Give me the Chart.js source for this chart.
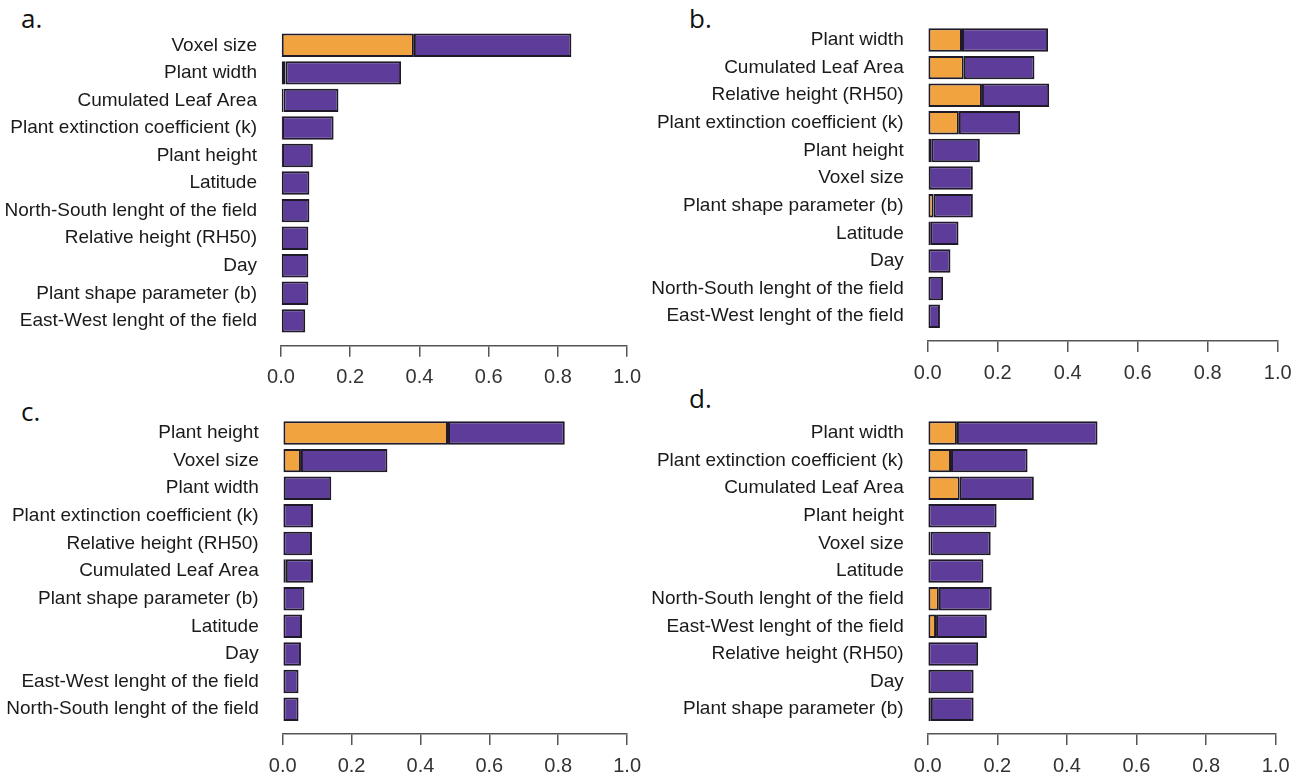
<!DOCTYPE html>
<html>
<head>
<meta charset="utf-8">
<script src="https://cdn.jsdelivr.net/npm/chart.js@4"></script>
<style>
  body { margin: 0; background: #fff; }
  #wrap { position: relative; width: 1303px; height: 780px; overflow: hidden; }
  canvas { position: absolute; }
  .tag { position: absolute; font-family: "Open Sans", sans-serif; font-size: 26px; line-height: 30px; color: #111; }
</style>
</head>
<body>
<div id="wrap">
  <div class="tag" style="left:21px; top:3px">a.</div>
  <div class="tag" style="left:689px; top:3px">b.</div>
  <div class="tag" style="left:21px; top:396px">c.</div>
  <div class="tag" style="left:689px; top:383px">d.</div>
  <canvas id="chartA" width="650" height="390" style="left:0; top:0"></canvas>
  <canvas id="chartB" width="653" height="390" style="left:650px; top:0"></canvas>
  <canvas id="chartC" width="650" height="390" style="left:0; top:390px"></canvas>
  <canvas id="chartD" width="653" height="390" style="left:650px; top:390px"></canvas>
</div>
<script>
// orange = first order index, full bar = total index
var labelsA = ["Voxel size", "Plant width", "Cumulated Leaf Area", "Plant extinction coefficient (k)",
  "Plant height", "Latitude", "North-South lenght of the field", "Relative height (RH50)", "Day",
  "Plant shape parameter (b)", "East-West lenght of the field"];
var firstA = [0.384, 0.013, 0.007, 0.003, 0.003, 0, 0, 0, 0, 0, 0];
var totalA = [0.839, 0.347, 0.166, 0.152, 0.092, 0.082, 0.082, 0.079, 0.079, 0.079, 0.070];

var labelsB = ["Plant width", "Cumulated Leaf Area", "Relative height (RH50)", "Plant extinction coefficient (k)",
  "Plant height", "Voxel size", "Plant shape parameter (b)", "Latitude", "Day",
  "North-South lenght of the field", "East-West lenght of the field"];
var firstB = [0.098, 0.103, 0.155, 0.089, 0.010, 0.003, 0.017, 0.007, 0, 0, 0];
var totalB = [0.344, 0.305, 0.347, 0.264, 0.149, 0.129, 0.129, 0.088, 0.065, 0.044, 0.035];

var labelsC = ["Plant height", "Voxel size", "Plant width", "Plant extinction coefficient (k)",
  "Relative height (RH50)", "Cumulated Leaf Area", "Plant shape parameter (b)", "Latitude", "Day",
  "East-West lenght of the field", "North-South lenght of the field"];
var firstC = [0.480, 0.053, 0.003, 0.002, 0.002, 0.009, 0, 0, 0, 0, 0];
var totalC = [0.819, 0.304, 0.141, 0.088, 0.085, 0.088, 0.063, 0.056, 0.053, 0.046, 0.046];

var labelsD = ["Plant width", "Plant extinction coefficient (k)", "Cumulated Leaf Area", "Plant height",
  "Voxel size", "Latitude", "North-South lenght of the field", "East-West lenght of the field",
  "Relative height (RH50)", "Day", "Plant shape parameter (b)"];
var firstD = [0.084, 0.067, 0.092, 0.002, 0.008, 0.002, 0.032, 0.024, 0.002, 0.002, 0.009];
var totalD = [0.488, 0.287, 0.305, 0.198, 0.181, 0.160, 0.184, 0.170, 0.145, 0.132, 0.132];

var xTicks = [0, 0.2, 0.4, 0.6, 0.8, 1.0];

const ORANGE = "#F1A340";
const PURPLE = "#5E3C99";

createChart("chartA", labelsA, firstA, totalA, { yWidth: 281, top: 31.5, right: 22, bottom: 0.3 });
createChart("chartB", labelsB, firstB, totalB, { yWidth: 277.7, top: 26.2, right: 25.3, bottom: 5 });
createChart("chartC", labelsC, firstC, totalC, { yWidth: 282.7, top: 29.2, right: 20, bottom: 2 });
createChart("chartD", labelsD, firstD, totalD, { yWidth: 277.7, top: 29.2, right: 27.3, bottom: 2 });

function createChart(id, labels, first, total, box) {
  // two floating bars per row: [0, first] and [first, total]
  const lower = labels.map((_, i) => ({ x: [0, first[i]], y: i }));
  const upper = labels.map((_, i) => ({ x: [first[i], total[i]], y: i }));

  new Chart(document.getElementById(id), {
    type: "bar",
    data: {
      datasets: [
        { data: lower, backgroundColor: ORANGE },
        { data: upper, backgroundColor: PURPLE },
      ],
    },
    options: {
      indexAxis: "y",
      responsive: false,
      animation: false,
      layout: { padding: { top: box.top, right: box.right, bottom: box.bottom, left: 0 } },
      plugins: { legend: { display: false }, tooltip: { enabled: false } },
      datasets: {
        bar: {
          grouped: false,
          borderWidth: 2,
          borderColor: "#1f1a28",
          borderSkipped: false,
          categoryPercentage: 1,
          barPercentage: 0.85,
        },
      },
      scales: {
        x: {
          type: "linear",
          min: 0,
          max: 1,
          afterFit: (s) => { s.height = 44; },
          afterBuildTicks: (s) => { s.ticks = xTicks.map((v) => ({ value: v })); },
          border: { display: true, color: "#555", width: 1.5 },
          grid: { drawOnChartArea: false, drawTicks: true, tickLength: 11, color: "#555", lineWidth: 1.5 },
          ticks: {
            padding: 9,
            color: "#333",
            font: { family: "Liberation Sans", size: 20 },
            callback: (v) => Number(v).toFixed(1),
          },
        },
        y: {
          type: "linear",
          reverse: true,
          offset: false,
          bounds: "data",
          min: -0.5,
          max: 10.9,
          afterFit: (s) => { s.width = box.yWidth; },
          afterBuildTicks: (s) => {
            s.min = -0.5;
            s.max = 10.9;
            s.ticks = labels.map((_, i) => ({ value: i }));
          },
          border: { display: false },
          // invisible tick marks give the gap between names and bars
          grid: { display: true, drawOnChartArea: false, drawTicks: true, tickLength: 24, color: "rgba(0,0,0,0)", offset: false },
          ticks: {
            autoSkip: false,
            padding: 0,
            color: "#1a1a1a",
            font: { family: "Liberation Sans", size: 19 },
            callback: (v) => labels[v],
          },
        },
      },
    },
  });
}
</script>
</body>
</html>
